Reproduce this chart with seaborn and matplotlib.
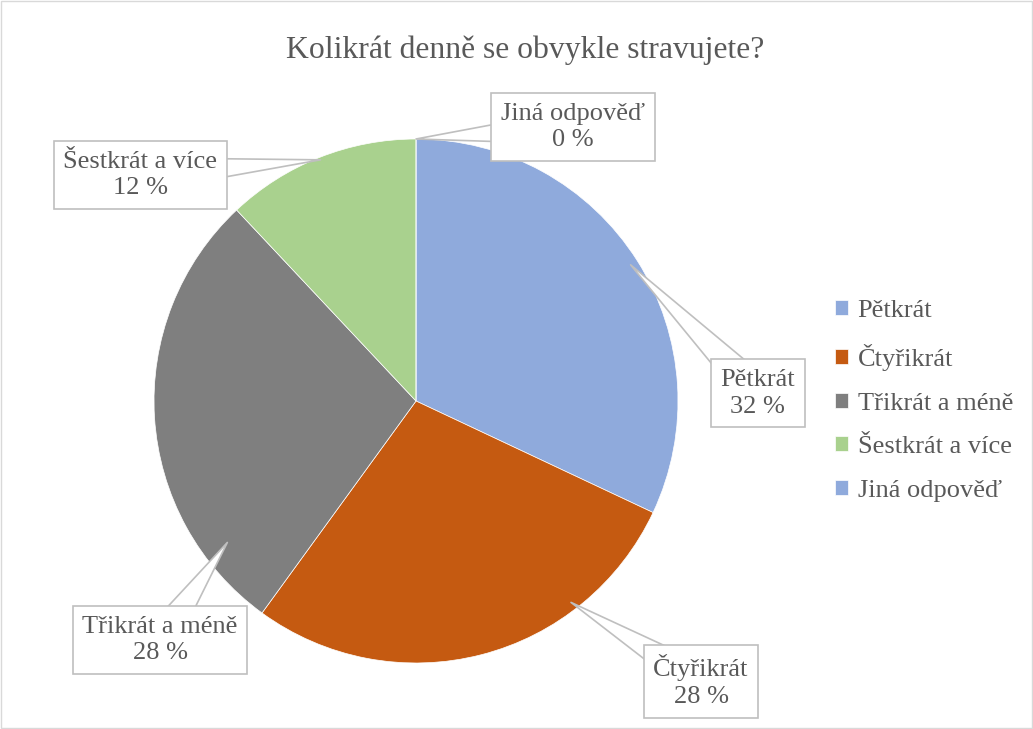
import numpy as np
import matplotlib
matplotlib.use('Agg')
import matplotlib.pyplot as plt
import seaborn as sns

# data
categories = ['Pětkrát', 'Čtyřikrát', 'Třikrát a méně', 'Šestkrát a více', 'Jiná odpověď']
shares = [32, 28, 28, 12, 0]
colors = ['#8faadc', '#c55a11', '#7f7f7f', '#a9d18e', '#8faadc']
title = 'Kolikrát denně se obvykle stravujete?'

# callout layout (data units, pie radius = 1)
box_pos = [(1.305, 0.03), (1.088, -1.07), (-0.977, -0.912), (-1.053, 0.863), (0.599, 1.046)]
tip_frac = [0.5, 0.73, 0.83, 0.5, 0.0]
tip_r = [0.97, 0.97, 0.9, 0.99, 1.0]

sns.set_theme(style='white')
plt.rcParams['font.family'] = ['Liberation Serif', 'DejaVu Serif']
text_col = '#595959'

fig = plt.figure(figsize=(10.33, 7.29), dpi=100)
ax = fig.add_axes([154 / 1033, 66 / 729, 524 / 1033, 524 / 729])

wedges, _ = ax.pie(shares, colors=colors, startangle=90, counterclock=False,
                   radius=1, wedgeprops=dict(edgecolor='white', linewidth=0.5))
ax.set_xlim(-1, 1)
ax.set_ylim(-1, 1)
ax.set_aspect('equal')
ax.axis('off')

for w, cat, val, pos, f, r in zip(wedges, categories, shares, box_pos, tip_frac, tip_r):
    ang = np.deg2rad(w.theta1 + f * (w.theta2 - w.theta1))
    tip = (r * np.cos(ang), r * np.sin(ang))
    # wedge starts at the box centre; the box is drawn over its base -> callout look
    ax.annotate(f'{cat}\n{val} %', xy=tip, xytext=pos, ha='center', va='center',
                multialignment='center', fontsize=19, color=text_col,
                linespacing=1.28, annotation_clip=False,
                bbox=dict(boxstyle='square,pad=0.36', fc='white', ec='#bfbfbf', lw=1.2),
                arrowprops=dict(arrowstyle='wedge,tail_width=1.3', patchA=None,
                                fc='white', ec='#bfbfbf', lw=1.2, shrinkA=0, shrinkB=0))

fig.text(525 / 1033, 1 - 50 / 729, title, ha='center', va='center',
         fontsize=22.8, color=text_col)

leg = fig.legend(wedges, categories, loc='center left', bbox_to_anchor=(822 / 1033, 1 - 401 / 729),
                 frameon=False, fontsize=19, handlelength=0.5, handleheight=0.5,
                 handletextpad=0.35, labelspacing=0.82, borderpad=0)
for t in leg.get_texts():
    t.set_color(text_col)

# thin chart border
fig.patches.append(plt.Rectangle((0.001, 0.001), 0.998, 0.998, transform=fig.transFigure,
                                 fill=False, ec='#d9d9d9', lw=1))

fig.savefig('out.png', dpi=100)
